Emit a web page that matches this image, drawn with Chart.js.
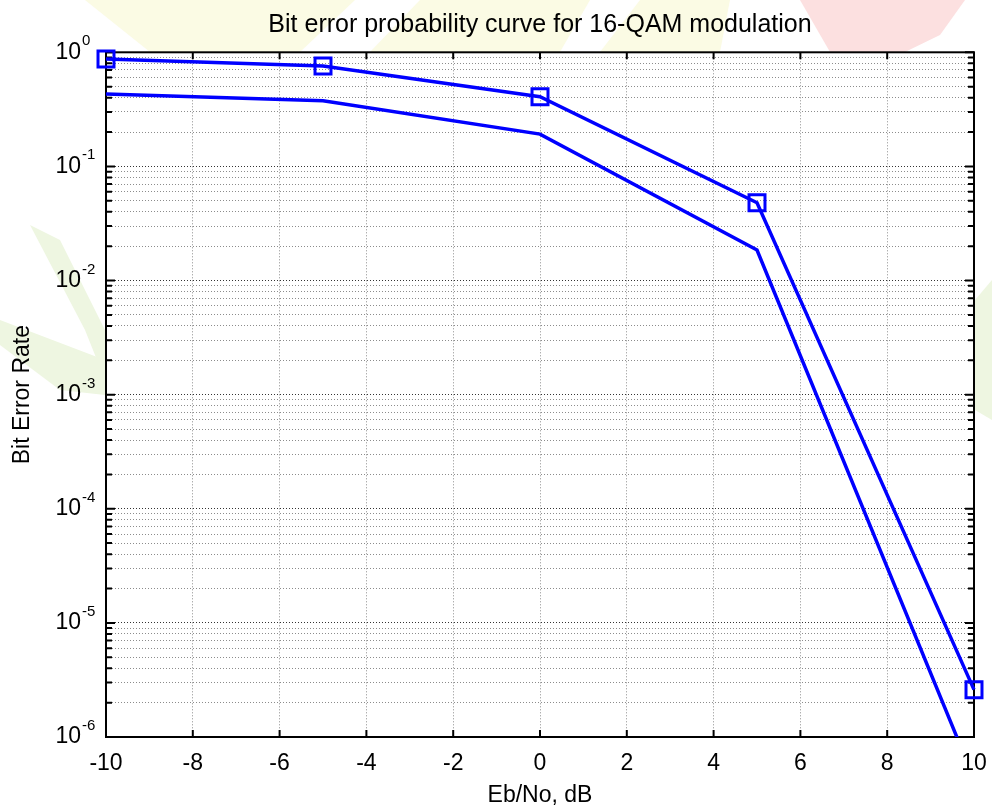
<!DOCTYPE html>
<html><head><meta charset="utf-8">
<script src="https://cdn.jsdelivr.net/npm/chart.js@4.4.1/dist/chart.umd.min.js"></script>
<style>html,body{margin:0;padding:0;background:#fff}#wrap{width:992px;height:810px}</style>
</head><body><div id="wrap"><canvas id="c" width="992" height="810"></canvas></div>
<script>
const ebNo = [-10, -5, 0, 5, 10];
const berSimulated = [0.874, 0.759, 0.408, 0.048, 2.6e-6];
const berTheory = [0.431, 0.376, 0.192, 0.0185, 4.3e-7];
const xTickValues = [-10, -8, -6, -4, -2, 0, 2, 4, 6, 8, 10];
const yDecadeExps = [-6, -5, -4, -3, -2, -1, 0];
const yTickBase = '10';
const yTickExponents = ['-6', '-5', '-4', '-3', '-2', '-1', '0'];
const titleText = 'Bit error probability curve for 16-QAM modulation';
const xTitle = 'Eb/No, dB';
const yTitle = 'Bit Error Rate';

const FONT = '"Liberation Sans", Arial, Helvetica, sans-serif';
const LABEL_PAD = 25;

function isDecade(v) {
  const e = Math.round(Math.log10(v));
  return Math.abs(Math.log10(v) - e) < 1e-6;
}

function poly(ctx, color, pts) {
  ctx.fillStyle = color;
  ctx.beginPath();
  pts.forEach((p, i) => i ? ctx.lineTo(p[0], p[1]) : ctx.moveTo(p[0], p[1]));
  ctx.closePath();
  ctx.fill();
}

const framePlugin = {
  id: 'frame',
  beforeDraw(chart) {
    const ctx = chart.ctx;
    ctx.save();
    ctx.fillStyle = '#ffffff';
    ctx.fillRect(0, 0, chart.width, chart.height);
    // faint background watermark (decoration only)
    const yel = 'rgb(251,251,228)', grn = 'rgb(238,246,225)', pnk = 'rgb(252,224,224)';
    poly(ctx, yel, [[85,0],[355,0],[300,52],[150,52]]);
    poly(ctx, yel, [[420,0],[590,0],[560,52],[370,52]]);
    poly(ctx, yel, [[640,0],[730,0],[720,52],[600,52]]);
    poly(ctx, pnk, [[800,0],[965,0],[940,35],[905,52],[830,52]]);
    poly(ctx, grn, [[30,225],[60,240],[105,330],[105,380],[85,330]]);
    poly(ctx, grn, [[0,320],[105,360],[105,395],[60,390],[0,345]]);
    poly(ctx, grn, [[975,300],[992,280],[992,420],[975,410]]);
    ctx.restore();
  },
  beforeDatasetsDraw(chart) {
    const {ctx, chartArea: a, scales} = chart;
    ctx.save();
    ctx.strokeStyle = '#000';
    ctx.lineWidth = 2;
    ctx.beginPath();
    scales.x.ticks.forEach(t => {
      const px = scales.x.getPixelForValue(t.value);
      ctx.moveTo(px, a.bottom); ctx.lineTo(px, a.bottom - 7);
      ctx.moveTo(px, a.top); ctx.lineTo(px, a.top + 7);
    });
    scales.y.ticks.forEach(t => {
      const py = scales.y.getPixelForValue(t.value);
      const len = isDecade(t.value) ? 9 : 6;
      ctx.moveTo(a.left, py); ctx.lineTo(a.left + len, py);
      ctx.moveTo(a.right, py); ctx.lineTo(a.right - len, py);
    });
    ctx.stroke();
    ctx.strokeRect(a.left, a.top, a.right - a.left, a.bottom - a.top);
    ctx.restore();
  },
  afterDraw(chart) {
    const {ctx, chartArea: a, scales} = chart;
    ctx.save();
    ctx.fillStyle = '#000';
    ctx.font = '15px ' + FONT;
    ctx.textAlign = 'left';
    ctx.textBaseline = 'alphabetic';
    yDecadeExps.forEach((e, i) => {
      const py = scales.y.getPixelForValue(Math.pow(10, e));
      ctx.fillText(yTickExponents[i], a.left - LABEL_PAD + 1, py - 7);
    });
    ctx.restore();
  }
};

const ctx = document.getElementById('c').getContext('2d');
new Chart(ctx, {
  type: 'line',
  data: {
    datasets: [
      {
        label: 'simulated',
        data: ebNo.map((x, i) => ({x, y: berSimulated[i]})),
        borderColor: '#0000ff',
        backgroundColor: 'rgba(0,0,0,0)',
        borderWidth: 3.5,
        pointStyle: 'rect',
        pointRadius: 11.3,
        pointBorderWidth: 3,
        pointBorderColor: '#0000ff',
        pointBackgroundColor: 'rgba(0,0,0,0)',
        tension: 0,
        clip: false
      },
      {
        label: 'theory',
        data: ebNo.map((x, i) => ({x, y: berTheory[i]})),
        borderColor: '#0000ff',
        borderWidth: 3.5,
        pointRadius: 0,
        tension: 0
      }
    ]
  },
  options: {
    responsive: false,
    animation: false,
    devicePixelRatio: 1,
    layout: {padding: {left: 0, right: 18, top: 0, bottom: 0}},
    plugins: {
      legend: {display: false},
      tooltip: {enabled: false},
      title: {
        display: true,
        text: titleText,
        fullSize: false,
        color: '#000',
        font: {family: FONT, size: 25, weight: 'normal', lineHeight: 1.2},
        padding: {top: 10, bottom: 12.3}
      }
    },
    scales: {
      x: {
        type: 'linear',
        min: -10, max: 10,
        afterBuildTicks(scale) { scale.ticks = xTickValues.map(v => ({value: v})); },
        afterFit(scale) { scale.height = 73; scale.paddingRight = 0; scale.paddingLeft = 0; },
        ticks: {
          autoSkip: false, maxRotation: 0, padding: 13, color: '#000',
          font: {family: FONT, size: 23},
          callback: v => String(v)
        },
        grid: {
          drawTicks: false,
          color: ctx => (ctx.tick && (ctx.tick.value === -10 || ctx.tick.value === 10)) ? 'rgba(0,0,0,0)' : 'rgba(0,0,0,0.45)',
          lineWidth: 1
        },
        border: {display: false, dash: [1, 2]},
        title: {display: true, text: xTitle, color: '#000', font: {family: FONT, size: 23}, padding: {top: 0, bottom: 1}}
      },
      y: {
        type: 'logarithmic',
        min: 1e-6, max: 1,
        afterBuildTicks(scale) {
          const t = [];
          yDecadeExps.forEach(e => {
            for (let m = 1; m <= 9; m++) {
              if (e === 0 && m > 1) break;
              t.push({value: m * Math.pow(10, e)});
            }
          });
          scale.ticks = t;
        },
        afterFit(scale) { scale.width = 106; },
        ticks: {
          autoSkip: false, padding: LABEL_PAD, color: '#000',
          font: {family: FONT, size: 23},
          callback: (v) => isDecade(v) ? yTickBase : ''
        },
        grid: {
          drawTicks: false,
          color: ctx => {
            if (!ctx.tick) return 'rgba(0,0,0,0.45)';
            const v = ctx.tick.value;
            if (Math.abs(v - 1) < 1e-9 || Math.abs(v - 1e-6) < 1e-15) return 'rgba(0,0,0,0)';
            return isDecade(v) ? 'rgba(0,0,0,0.8)' : 'rgba(0,0,0,0.45)';
          },
          lineWidth: 1
        },
        border: {display: false, dash: [1, 2]},
        title: {display: true, text: yTitle, color: '#000', font: {family: FONT, size: 23}, padding: {top: 9, bottom: 0}}
      }
    }
  },
  plugins: [framePlugin]
});
</script>
</body></html>
